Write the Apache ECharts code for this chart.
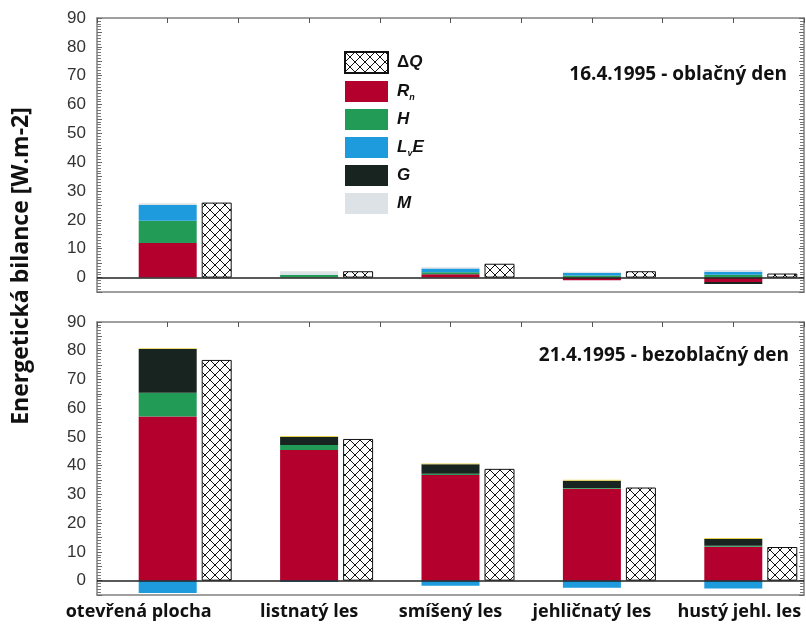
<!DOCTYPE html>
<html><head><meta charset="utf-8">
<script src="https://cdn.jsdelivr.net/npm/echarts@6/dist/echarts.min.js"></script>
<style>html,body{margin:0;padding:0;background:#fff}#c{width:806px;height:630px}</style>
</head><body><div id="c"></div>
<script>
const categories = ['otevřená plocha', 'listnatý les', 'smíšený les', 'jehličnatý les', 'hustý jehl. les'];
const yTicks = [0, 10, 20, 30, 40, 50, 60, 70, 80, 90];
// 16.4.1995 - cloudy day
const rn1  = [12.0, 0.1, 1.15, -0.9, -1.5];
const h1   = [7.7, 0.8, 0.7, 0.7, 1.0];
const lve1 = [5.5, 0.1, 1.3, 0.9, 1.0];
const g1   = [0, 0, 0, 0, -0.7];
const m1   = [0.6, 1.2, 0.45, 0.45, 0.6];
const dq1  = [26.0, 2.2, 4.8, 2.2, 1.4];
// 21.4.1995 - clear day
const rn2  = [57.1, 45.5, 36.8, 32.0, 11.8];
const h2   = [8.3, 1.7, 0.4, 0.2, 0.3];
const lve2 = [-4.3, -0.5, -1.8, -2.5, -2.7];
const g2   = [15.2, 2.8, 3.3, 2.6, 2.4];
const m2   = [0.3, 0.3, 0.3, 0.3, 0.3];
const dq2  = [76.8, 49.3, 38.9, 32.4, 11.7];

const COL = {rn: '#b3002d', h: '#229b57', lve: '#1e9bdc', g: '#17241f', m: '#dde2e6', m2: '#e6d24e'};

const pc = document.createElement('canvas');
pc.width = 10; pc.height = 10;
const pctx = pc.getContext('2d');
pctx.fillStyle = '#fff'; pctx.fillRect(0, 0, 10, 10);
pctx.strokeStyle = '#111'; pctx.lineWidth = 1;
pctx.beginPath(); pctx.moveTo(0, 0); pctx.lineTo(10, 10); pctx.moveTo(10, 0); pctx.lineTo(0, 10); pctx.stroke();
const hatch = {image: pc, repeat: 'repeat'};

const frameColor = '#808080';
const grids = [
  {left: 97, right: 2, top: 18, height: 274},
  {left: 97, right: 2, top: 322, height: 273}
];
const lblFont = {fontFamily: 'Open Sans', fontWeight: 'bold', fontSize: 18, color: '#111'};

function xAxesFor(gi, showLabels) {
  return [
    {type: 'category', gridIndex: gi, data: categories, position: 'bottom',
     axisLine: {onZero: false, lineStyle: {color: frameColor, width: 1.5}},
     axisTick: {inside: true, length: 6, alignWithLabel: true, lineStyle: {color: '#444'}},
     axisLabel: showLabels ? {
       margin: 8, interval: 0,
       formatter: (v, i) => i === 0 ? '{a|' + v + '}' : (i === 4 ? '{c|' + v + '}' : '{b|' + v + '}'),
       rich: {
         a: Object.assign({}, lblFont, {padding: [0, 58, 0, 0]}),
         b: Object.assign({}, lblFont),
         c: Object.assign({}, lblFont, {padding: [0, 0, 0, 12]})
       }
     } : {show: false},
     splitLine: {show: false}},
    {type: 'category', gridIndex: gi, data: categories, show: false},
    {type: 'value', gridIndex: gi, position: 'top', min: -0.5, max: 4.5, interval: 0.5,
     axisLine: {show: true, onZero: false, lineStyle: {color: frameColor, width: 1.5}},
     axisTick: {show: true, inside: true, length: 5, lineStyle: {color: '#555'}},
     axisLabel: {show: false}, splitLine: {show: false}}
  ];
}
function yAxesFor(gi) {
  return [
    {type: 'value', gridIndex: gi, position: 'left', min: -5, max: 90, interval: 5,
     axisLine: {show: true, onZero: false, lineStyle: {color: frameColor, width: 1.5}},
     axisTick: {show: true, inside: true, length: 5, lineStyle: {color: '#666'}},
     minorTick: {show: true, splitNumber: 5, length: 4, lineStyle: {color: '#777'}},
     axisLabel: {margin: 11, fontFamily: 'Liberation Sans', fontSize: 17, color: '#333',
       formatter: v => (yTicks.indexOf(v) >= 0 ? String(v) : '')},
     splitLine: {show: false}},
    {type: 'value', gridIndex: gi, position: 'right', min: -5, max: 90, interval: 5,
     axisLine: {show: true, onZero: false, lineStyle: {color: frameColor, width: 1.5}},
     axisTick: {show: true, inside: true, length: 5, lineStyle: {color: '#666'}},
     minorTick: {show: true, splitNumber: 5, length: 4, lineStyle: {color: '#777'}},
     axisLabel: {show: false}, splitLine: {show: false}}
  ];
}

function seriesFor(gi, rn, h, lve, g, m, dq, mColor) {
  const xs = gi * 3, ys = gi * 2, st = 'bal' + gi;
  const base = {type: 'bar', xAxisIndex: xs, yAxisIndex: ys, stack: st, barWidth: 58, silent: true};
  return [
    Object.assign({}, base, {name: 'Rn', data: rn, itemStyle: {color: COL.rn},
      markLine: {silent: true, symbol: ['none', 'none'], label: {show: false},
        lineStyle: {color: '#222', width: 1.5, type: 'solid'}, data: [{yAxis: 0}], z: 10}}),
    Object.assign({}, base, {name: 'H', data: h, itemStyle: {color: COL.h}}),
    Object.assign({}, base, {name: 'LvE', data: lve, itemStyle: {color: COL.lve}}),
    Object.assign({}, base, {name: 'G', data: g, itemStyle: {color: COL.g}}),
    Object.assign({}, base, {name: 'M', data: m, itemStyle: {color: mColor}}),
    {type: 'bar', name: '_pad' + gi, xAxisIndex: xs + 1, yAxisIndex: ys, barWidth: 30, barGap: '226.67%',
     data: dq.map(() => 0), itemStyle: {color: 'rgba(0,0,0,0)'}, silent: true},
    {type: 'bar', name: 'ΔQ', xAxisIndex: xs + 1, yAxisIndex: ys, barWidth: 30, barGap: '226.67%',
     data: dq, itemStyle: {color: hatch, borderColor: '#111', borderWidth: 1}, silent: true}
  ];
}

const rb = {fontFamily: 'Liberation Sans', fontWeight: 'bold', fontSize: 17, color: '#111'};
const option = {
  animation: false,
  backgroundColor: '#fff',
  grid: grids,
  xAxis: xAxesFor(0, false).concat(xAxesFor(1, true)),
  yAxis: yAxesFor(0).concat(yAxesFor(1)),
  title: [
    {text: '16.4.1995 - oblačný den', right: 14, top: 60,
     textStyle: {fontFamily: 'Open Sans', fontWeight: 'bold', fontSize: 19, color: '#111'}},
    {text: '21.4.1995 - bezoblačný den', right: 12, top: 341,
     textStyle: {fontFamily: 'Open Sans', fontWeight: 'bold', fontSize: 19, color: '#111'}}
  ],
  legend: {
    orient: 'vertical', left: 339, top: 46, itemWidth: 43, itemHeight: 21, itemGap: 7,
    selectedMode: false, icon: 'rect',
    data: ['ΔQ', 'Rn', 'H', 'LvE', 'G', 'M'],
    formatter: n => ({'ΔQ': '{d|Δ}{i|Q}', 'Rn': '{i|R}{s|n}', 'H': '{i|H}', 'LvE': '{i|L}{s|v}{i|E}', 'G': '{i|G}', 'M': '{i|M}'})[n],
    textStyle: {
      padding: [0, 0, 0, 4],
      rich: {
        i: Object.assign({}, rb, {fontStyle: 'italic'}),
        d: Object.assign({}, rb),
        s: {fontFamily: 'Liberation Sans', fontWeight: 'bold', fontStyle: 'italic', fontSize: 9, color: '#111', padding: [12, 0, 0, 0]}
      }
    }
  },
  graphic: [
    {type: 'text', x: 21, y: 266, rotation: Math.PI / 2,
     style: {text: 'Energetická bilance [W.m-2]', font: 'bold 23px "Open Sans"', fill: '#111',
       textAlign: 'center', textVerticalAlign: 'middle'}}
  ],
  series: seriesFor(0, rn1, h1, lve1, g1, m1, dq1, COL.m).concat(seriesFor(1, rn2, h2, lve2, g2, m2, dq2, COL.m2))
};
echarts.init(document.getElementById('c')).setOption(option);
</script></body></html>
